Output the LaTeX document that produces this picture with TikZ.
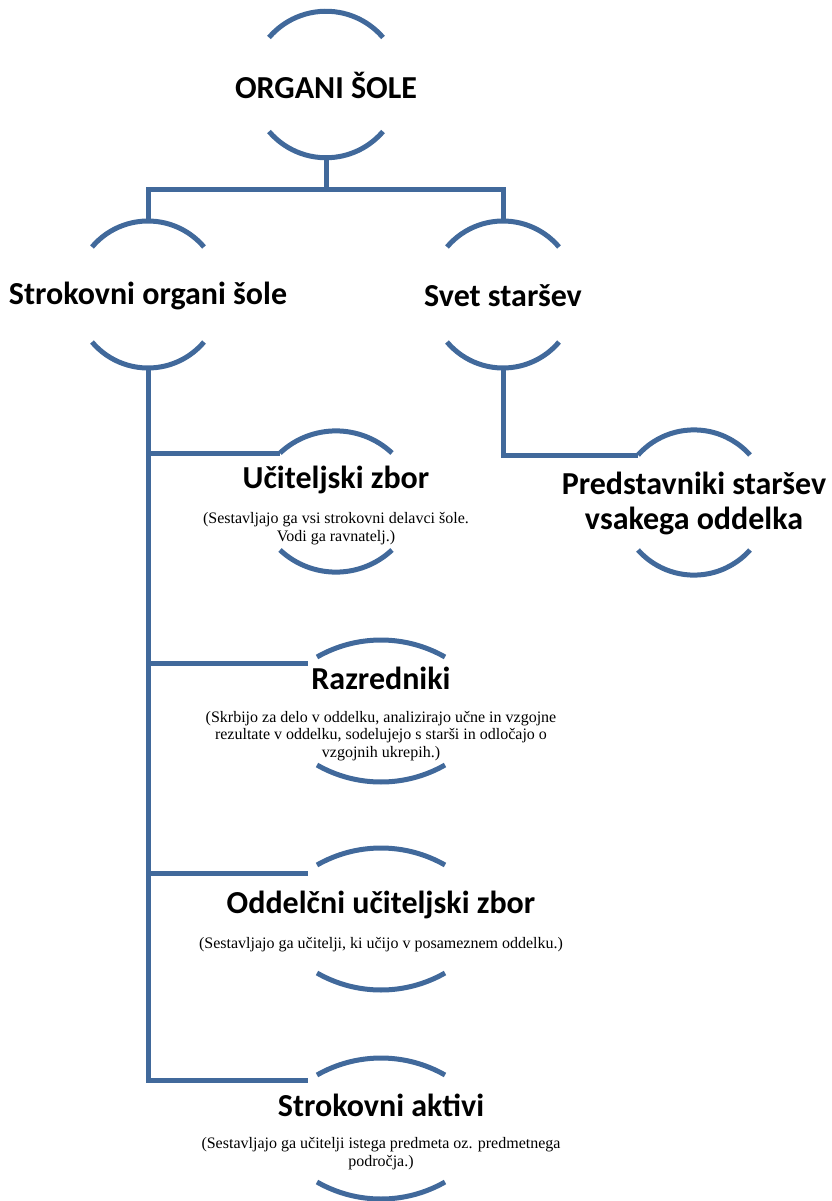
\documentclass[tikz,border=0pt]{standalone}
\usepackage{fontspec}
\setmainfont{Liberation Serif}
\newfontfamily\titlefont{Carlito}
\definecolor{arccol}{RGB}{65,105,155}
\newcommand\bubarcs[5]{%
  \pgfmathsetmacro\bubang{asin(#4/#5)}%
  \draw[ln] ({#1-#4},#2) arc[start angle=90+\bubang, end angle=90-\bubang, radius=#5pt];
  \draw[ln] ({#1-#4},#3) arc[start angle=270-\bubang, end angle=270+\bubang, radius=#5pt];
}
\tikzset{
  ln/.style={draw=arccol, line width=5pt},
  conn/.style={draw=arccol, line width=5pt},
  ttl/.style={font=\titlefont\bfseries\fontsize{32}{35}\selectfont, align=center, inner sep=0pt},
  sub/.style={font=\fontsize{16}{17.8}\selectfont, align=center, inner sep=0pt}
}
\begin{document}
\begin{tikzpicture}[x=1pt,y=-1pt]
\useasboundingbox (0,0) rectangle (831,1201);
% arcs
\bubarcs{326}{37.5}{131.5}{57}{75}
\bubarcs{148}{247}{342}{56}{73.3}
\bubarcs{503}{247}{342}{56}{73.3}
\bubarcs{336}{453}{550}{56}{82}
\bubarcs{694}{455}{550}{56}{75}
\bubarcs{381}{657}{765}{64}{129}
\bubarcs{381}{865}{973}{64}{129}
\bubarcs{381}{1075}{1182}{64}{129}
% attach points
\coordinate (topB) at (326,157);
\coordinate (strT) at (148,221);
\coordinate (strB) at (148,368);
\coordinate (svT) at (503,221);
\coordinate (svB) at (503,368);
\coordinate (ucL) at (280,453);
\coordinate (predL) at (638,455);
\coordinate (razL) at (308,663);
\coordinate (oddL) at (308,873);
\coordinate (aktL) at (308,1080);
% texts
\node[ttl] (t0) at (326,85) {ORGANI ŠOLE};
\node[ttl] (t1) at (148,296) {Strokovni organi šole};
\node[ttl] (t2) at (503,296) {Svet staršev};
\node[ttl] (t3) at (336,480) {Učiteljski zbor};
\node[sub] (s3) at (336,529) {(Sestavljajo ga vsi strokovni delavci šole.\\Vodi ga ravnatelj.)};
\node[ttl] (t4) at (694,503) {Predstavniki staršev\\vsakega oddelka};
\node[ttl] (t5) at (381,678) {Razredniki};
\node[sub] (s5) at (381,736) {(Skrbijo za delo v oddelku, analizirajo učne in vzgojne\\rezultate v oddelku, sodelujejo s starši in odločajo o\\vzgojnih ukrepih.)};
\node[ttl] (t6) at (381,905) {Oddelčni učiteljski zbor};
\node[sub] (s6) at (381,945) {(Sestavljajo ga učitelji, ki učijo v posameznem oddelku.)};
\node[ttl] (t7) at (381,1105) {Strokovni aktivi};
\node[sub] (s7) at (381,1154) {(Sestavljajo ga učitelji istega predmeta oz. predmetnega\\področja.)};
% connectors
\draw[conn] (topB) -- ++(0,33) -| (strT);
\draw[conn] (topB) -- ++(0,33) -| (svT);
\draw[conn] (svB) |- (predL);
\draw[conn] (strB) |- (ucL);
\draw[conn] (strB) |- (razL);
\draw[conn] (strB) |- (oddL);
\draw[conn] (strB) |- (aktL);
\end{tikzpicture}
\end{document}
